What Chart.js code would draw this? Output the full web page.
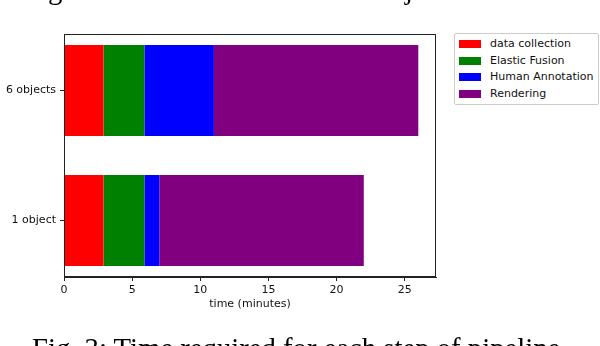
<!DOCTYPE html>
<html>
<head>
<meta charset="utf-8">
<script src="https://cdn.jsdelivr.net/npm/chart.js@4/dist/chart.umd.min.js"></script>
<style>
  html, body { margin: 0; padding: 0; background: #fff; }
  #wrap { position: relative; width: 600px; height: 346px; overflow: hidden; }
  #chart { position: absolute; left: 0; top: 0; }
  .para { position: absolute; font-family: "Liberation Serif", serif; font-size: 28.7px; line-height: 28.7px; color: #000; white-space: nowrap; }
  #legend { position: absolute; left: 454px; top: 33px; width: 143px; height: 70px; border: 1px solid #ccc; border-radius: 2px; background: #fff; }
  .row { position: absolute; left: 0; height: 16px; font: 11px "DejaVu Sans", sans-serif; color: #111; line-height: 16px; }
  .sw { position: absolute; left: 4px; top: 4px; width: 22px; height: 8px; }
  .lbl { position: absolute; left: 35px; top: 0; white-space: nowrap; }
</style>
</head>
<body>
<div id="wrap">
  <canvas id="chart" width="600" height="346"></canvas>
  <div class="para" style="left:5px; top:-25px;">ating our data for the individual object scenes.</div>
  <div class="para" style="left:32px; top:334px;">Fig. 3: Time required for each step of pipeline.</div>
  <div id="legend"></div>
</div>
<script>
const categories = ["1 object", "6 objects"];
const stepNames = ["data collection", "Elastic Fusion", "Human Annotation", "Rendering"];
const stepColors = ["#ff0000", "#008000", "#0000ff", "#800080"];
const dataCollection = [2.9, 2.9];
const elasticFusion = [3.0, 3.0];
const humanAnnotation = [1.1, 5.1];
const rendering = [15.0, 15.0];
const xTicks = [0, 5, 10, 15, 20, 25];

const seriesValues = [dataCollection, elasticFusion, humanAnnotation, rendering];

// matplotlib-like limits: 5% margin around the data
const totals = categories.map((_, i) => seriesValues.reduce((s, arr) => s + arr[i], 0));
const xMax = Math.max(...totals) * 1.05;
const barHeight = 0.7;
const yPad = (categories.length - 1 + barHeight) * 0.05;
const yMin = -barHeight / 2 - yPad;
const yMax = categories.length - 1 + barHeight / 2 + yPad;

const frame = {
  id: "frame",
  afterDraw(chart) {
    const { ctx, chartArea: a } = chart;
    ctx.save();
    ctx.strokeStyle = "#222";
    ctx.lineWidth = 1;
    ctx.strokeRect(Math.round(a.left) + 0.5, Math.round(a.top) + 0.5,
      Math.round(a.right - a.left) - 1, Math.round(a.bottom - a.top) - 1);
    ctx.restore();
  }
};

const tickFont = { family: "DejaVu Sans", size: 11 };

const chart = new Chart(document.getElementById("chart"), {
  type: "bar",
  data: {
    datasets: stepNames.map((name, k) => ({
      label: name,
      data: seriesValues[k].map((v, i) => ({ x: v, y: i })),
      backgroundColor: stepColors[k],
      borderWidth: 0,
      categoryPercentage: 1,
      barPercentage: barHeight
    }))
  },
  options: {
    indexAxis: "y",
    responsive: false,
    animation: false,
    devicePixelRatio: 1,
    layout: { padding: { left: 0, right: 164, top: 34, bottom: 35 } },
    plugins: { legend: { display: false }, tooltip: { enabled: false } },
    scales: {
      x: {
        type: "linear",
        stacked: true,
        min: 0,
        max: xMax,
        afterBuildTicks: (s) => { s.ticks = xTicks.map((v) => ({ value: v })); },
        afterFit: (s) => { s.height = 34; },
        grid: { display: true, drawOnChartArea: false, drawTicks: true, tickLength: 4, color: "#222" },
        border: { display: true, color: "#222", width: 1 },
        ticks: { color: "#111", font: tickFont, padding: 3, maxRotation: 0 },
        title: { display: true, text: "time (minutes)", color: "#111", font: tickFont, padding: { top: 0, bottom: 0 } }
      },
      y: {
        type: "linear",
        stacked: true,
        offset: false,
        min: yMin,
        max: yMax,
        afterBuildTicks: (s) => { s.ticks = categories.map((_, i) => ({ value: i })); },
        afterFit: (s) => { s.width = 64; },
        grid: { display: true, offset: false, drawOnChartArea: false, drawTicks: true, tickLength: 4, color: "#222" },
        border: { display: true, color: "#222", width: 1 },
        ticks: { color: "#111", font: tickFont, padding: 4, callback: (v) => categories[v] }
      }
    }
  },
  plugins: [frame]
});

// legend built from the chart's datasets
const legend = document.getElementById("legend");
chart.data.datasets.forEach((ds, i) => {
  const row = document.createElement("div");
  row.className = "row";
  row.style.top = (2 + i * 16.7) + "px";
  row.innerHTML = '<span class="sw" style="background:' + ds.backgroundColor + '"></span><span class="lbl">' + ds.label + "</span>";
  legend.appendChild(row);
});
</script>
</body>
</html>
